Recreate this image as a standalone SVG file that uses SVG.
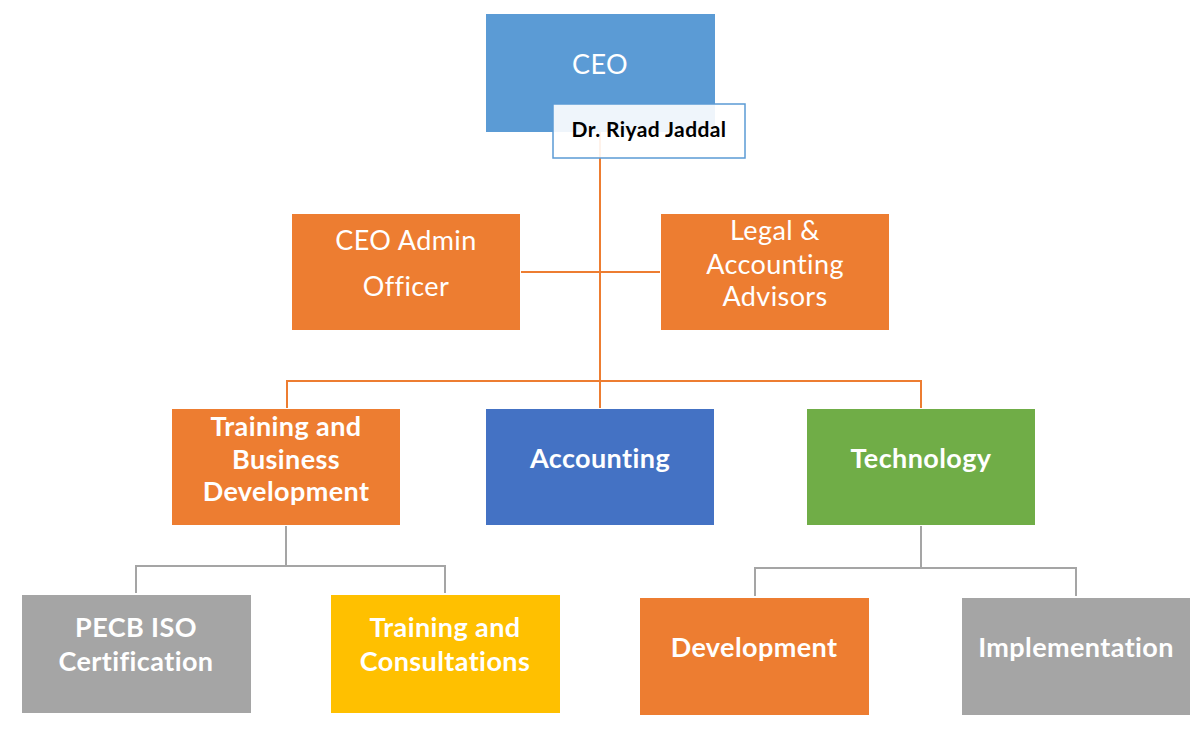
<svg xmlns="http://www.w3.org/2000/svg" width="1203" height="729" viewBox="0 0 1203 729">
<style>
.t{font-family:Lato,"Open Sans","Liberation Sans",sans-serif;fill:#fff;text-anchor:middle;font-size:27px;letter-spacing:0.4px}
.b{font-weight:bold}
.oc{stroke:#ED7D31;stroke-width:2;fill:none}
.gc{stroke:#A5A5A5;stroke-width:2;fill:none}
</style>
<rect width="1203" height="729" fill="#fff"/>
<g id="connectors">
<path class="oc" d="M600 132V408M521 272H660M287 408V381H921V408"/>
<path class="gc" d="M286 526V566H136V593M286 566H445V593M921 526V568H755V596M921 568H1076V596"/>
</g>
<g id="ceo">
<rect x="486" y="14" width="229" height="118" fill="#5B9BD5"/>
<text class="t" x="600" y="74">CEO</text>
</g>
<g id="ceo-name">
<rect x="553" y="104" width="192" height="54" fill="#fff" fill-opacity="0.9" stroke="#5B9BD5" stroke-width="1.5"/>
<text class="t b" x="649" y="137" style="fill:#000;font-size:21px">Dr. Riyad Jaddal</text>
</g>
<g id="admin">
<rect x="292" y="214" width="228" height="116" fill="#ED7D31"/>
<text class="t" x="406" y="250">CEO Admin</text>
<text class="t" x="406" y="296">Officer</text>
</g>
<g id="legal">
<rect x="661" y="214" width="228" height="116" fill="#ED7D31"/>
<text class="t" x="775" y="240">Legal &amp;</text>
<text class="t" x="775" y="274">Accounting</text>
<text class="t" x="775" y="306">Advisors</text>
</g>
<g id="training">
<rect x="172" y="409" width="228" height="116" fill="#ED7D31"/>
<text class="t b" x="286" y="436">Training and</text>
<text class="t b" x="286" y="469">Business</text>
<text class="t b" x="286" y="501">Development</text>
</g>
<g id="accounting">
<rect x="486" y="409" width="228" height="116" fill="#4472C4"/>
<text class="t b" x="600" y="468">Accounting</text>
</g>
<g id="technology">
<rect x="807" y="409" width="228" height="116" fill="#70AD47"/>
<text class="t b" x="921" y="468">Technology</text>
</g>
<g id="pecb">
<rect x="22" y="595" width="229" height="118" fill="#A5A5A5"/>
<text class="t b" x="136" y="637">PECB ISO</text>
<text class="t b" x="136" y="671">Certification</text>
</g>
<g id="consult">
<rect x="331" y="595" width="229" height="118" fill="#FFC000"/>
<text class="t b" x="445" y="637">Training and</text>
<text class="t b" x="445" y="671">Consultations</text>
</g>
<g id="development">
<rect x="640" y="598" width="229" height="117" fill="#ED7D31"/>
<text class="t b" x="754" y="657">Development</text>
</g>
<g id="implementation">
<rect x="962" y="598" width="228" height="117" fill="#A5A5A5"/>
<text class="t b" x="1076" y="657">Implementation</text>
</g>
</svg>
